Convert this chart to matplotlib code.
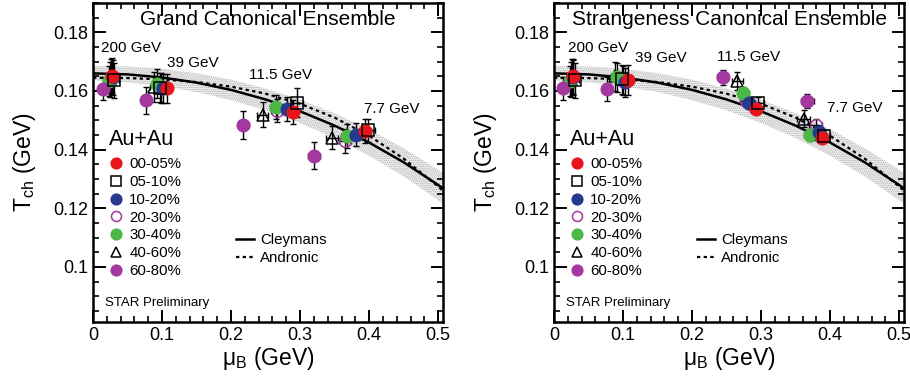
import numpy as np
import matplotlib
matplotlib.use('Agg')
import matplotlib.pyplot as plt
from matplotlib.ticker import MultipleLocator, FuncFormatter

plt.rcParams['font.family'] = ['Liberation Sans', 'DejaVu Sans']
plt.rcParams['hatch.linewidth'] = 0.6

# centralities and beam energies (columns of the arrays below)
centralities = ['00-05%', '05-10%', '10-20%', '20-30%', '30-40%', '40-60%', '60-80%']
energies = ['200 GeV', '39 GeV', '11.5 GeV', '7.7 GeV']

# Grand Canonical Ensemble: mu_B and T_ch (GeV), rows = centralities
gce_mu = [[0.027, 0.107, 0.289, 0.394],
          [0.031, 0.097, 0.296, 0.399],
          [0.0285, 0.102, 0.281, 0.381],
          [0.026, 0.099, 0.266, 0.365],
          [0.0237, 0.0923, 0.265, 0.3686],
          [0.025, 0.0889, 0.246, 0.346],
          [0.015, 0.0768, 0.218, 0.320]]
gce_T = [[0.1652, 0.1609, 0.1528, 0.1464],
         [0.1637, 0.1611, 0.1560, 0.1466],
         [0.1646, 0.1609, 0.1539, 0.1451],
         [0.1648, 0.1610, 0.1533, 0.1430],
         [0.1634, 0.1625, 0.1545, 0.1447],
         [0.1640, 0.1614, 0.1519, 0.1441],
         [0.1608, 0.1568, 0.1483, 0.1379]]
gce_Terr = [[0.006, 0.005, 0.004, 0.004],
            [0.006, 0.005, 0.005, 0.004],
            [0.006, 0.005, 0.004, 0.004],
            [0.006, 0.005, 0.004, 0.004],
            [0.005, 0.005, 0.004, 0.004],
            [0.006, 0.005, 0.0043, 0.004],
            [0.004, 0.0045, 0.0047, 0.0046]]

# Strangeness Canonical Ensemble
sce_mu = [[0.027, 0.1066, 0.2922, 0.3876],
          [0.0305, 0.099, 0.2955, 0.3905],
          [0.028, 0.103, 0.2825, 0.384],
          [0.026, 0.100, 0.2776, 0.379],
          [0.0233, 0.091, 0.274, 0.371],
          [0.025, 0.089, 0.2655, 0.3615],
          [0.0136, 0.0766, 0.2447, 0.367]]
sce_T = [[0.1650, 0.1637, 0.1540, 0.1441],
         [0.1637, 0.1640, 0.1560, 0.1448],
         [0.1646, 0.1629, 0.1560, 0.1459],
         [0.1648, 0.1635, 0.1566, 0.1483],
         [0.1634, 0.1646, 0.1594, 0.1451],
         [0.1640, 0.1650, 0.1634, 0.1506],
         [0.1609, 0.1606, 0.1646, 0.1566]]
sce_Terr = [[0.006, 0.005, 0.002, 0.002],
            [0.006, 0.005, 0.002, 0.002],
            [0.006, 0.005, 0.002, 0.002],
            [0.006, 0.005, 0.002, 0.002],
            [0.005, 0.005, 0.002, 0.002],
            [0.006, 0.005, 0.003, 0.003],
            [0.004, 0.004, 0.0024, 0.0025]]
mu_err = [0.006, 0.006, 0.008, 0.009]

# model curves
curve_mu = [0.0, 0.05, 0.1, 0.15, 0.2, 0.25, 0.3, 0.35, 0.4, 0.45, 0.5, 0.52]
cleymans_T = [0.1660, 0.16565, 0.1646, 0.16285, 0.16036, 0.15711, 0.15306,
              0.14818, 0.1424, 0.13568, 0.12794, 0.1246]
andronic_T = [0.1645, 0.1644, 0.16396, 0.16304, 0.16147, 0.15907, 0.15563,
              0.1509, 0.14473, 0.13693, 0.12741, 0.1232]
band_half = [0.0025, 0.0027, 0.003, 0.0032, 0.0035, 0.0037, 0.004,
             0.0042, 0.0045, 0.0048, 0.0052, 0.0054]

gce_labels = [(0.011, 0.1748), (0.107, 0.1695), (0.226, 0.1655), (0.393, 0.1537)]
sce_labels = [(0.021, 0.1748), (0.118, 0.1711), (0.236, 0.1716), (0.395, 0.1542)]

styles = [dict(marker='o', mfc='#e8141c', mec='#e8141c', zorder=8),
          dict(marker='s', mfc='none', mec='black', zorder=9),
          dict(marker='o', mfc='#27398f', mec='#27398f', zorder=7),
          dict(marker='o', mfc='none', mec='#a3389e', zorder=4),
          dict(marker='o', mfc='#4cb848', mec='#4cb848', zorder=6),
          dict(marker='^', mfc='none', mec='black', zorder=5),
          dict(marker='o', mfc='#a3389e', mec='#a3389e', zorder=6)]
sizes = [9, 8, 9, 8.5, 9, 8.5, 9]

fig = plt.figure(figsize=(9.1, 3.81), dpi=100)
ax1 = fig.add_axes([93 / 910, 1 - 322 / 381, 350 / 910, 319 / 381])
ax2 = fig.add_axes([554 / 910, 1 - 322 / 381, 350 / 910, 319 / 381])

panels = [(ax1, 'Grand Canonical Ensemble', gce_mu, gce_T, gce_Terr, gce_labels),
          (ax2, 'Strangeness Canonical Ensemble', sce_mu, sce_T, sce_Terr, sce_labels)]

cm = np.array(curve_mu)
ct = np.array(cleymans_T)
bh = np.array(band_half)

for ax, title, mus, Ts, Terrs, lab_pos in panels:
    ax.fill_between(cm, ct - bh, ct + bh, facecolor='#ececec', edgecolor='#b4b4b4',
                    hatch='........', linewidth=0, zorder=1)
    l1, = ax.plot(curve_mu, cleymans_T, color='black', lw=1.8, zorder=2, label='Cleymans')
    l2, = ax.plot(curve_mu, andronic_T, color='black', lw=1.6, ls=(0, (1.5, 1.5)),
                  zorder=2, label='Andronic')

    handles = []
    for i, cen in enumerate(centralities):
        st = styles[i]
        ax.errorbar(mus[i], Ts[i], yerr=Terrs[i], xerr=mu_err, fmt='none',
                    ecolor='black', elinewidth=1.0, capsize=2.5, capthick=1.0,
                    zorder=3)
        h, = ax.plot(mus[i], Ts[i], ls='none', marker=st['marker'], ms=sizes[i],
                     mfc=st['mfc'], mec=st['mec'], mew=1.1, zorder=st['zorder'],
                     label=cen)
        handles.append(h)

    for txt, (x, y) in zip(energies, lab_pos):
        ax.text(x, y, txt, fontsize=11, ha='left', va='center', zorder=10)

    ax.text(0.5, 0.947, title, transform=ax.transAxes, fontsize=15,
            ha='center', va='center')
    ax.text(0.035, 0.06, 'STAR Preliminary', transform=ax.transAxes, fontsize=9.5,
            ha='left', va='center')

    leg = ax.legend(handles=handles, loc='upper left', bbox_to_anchor=(0.02, 0.632),
                    frameon=False, title='Au+Au', title_fontsize=15.5, alignment='left',
                    fontsize=10.8, handlelength=0.9, handletextpad=0.45,
                    labelspacing=0.25, borderaxespad=0.2, markerscale=0.85)
    leg._legend_box.sep = 5
    ax.add_artist(leg)
    ax.legend(handles=[l1, l2], loc='upper left', bbox_to_anchor=(0.37, 0.32),
              frameon=False, fontsize=10.8, handlelength=1.2, handletextpad=0.4,
              labelspacing=0.25)

    ax.set_xlim(0, 0.507)
    ax.set_ylim(0.0812, 0.19)
    ax.xaxis.set_major_locator(MultipleLocator(0.1))
    ax.xaxis.set_minor_locator(MultipleLocator(0.02))
    ax.yaxis.set_major_locator(MultipleLocator(0.02))
    ax.yaxis.set_minor_locator(MultipleLocator(0.005))
    fmt = FuncFormatter(lambda v, p: '%g' % round(v, 3))
    ax.xaxis.set_major_formatter(fmt)
    ax.yaxis.set_major_formatter(fmt)
    ax.tick_params(which='both', direction='in', top=True, right=True, labelsize=13)
    ax.tick_params(which='major', length=9, width=1.4)
    ax.tick_params(which='minor', length=4.5, width=1.2)
    for s in ax.spines.values():
        s.set_linewidth(1.8)
    ax.set_xlabel(r'$\mathregular{\mu_B}$ (GeV)', fontsize=16.5, labelpad=1)
    ax.set_ylabel(r'$\mathregular{T_{ch}}$ (GeV)', fontsize=16.5, labelpad=11)

fig.savefig('out.png', dpi=100)
